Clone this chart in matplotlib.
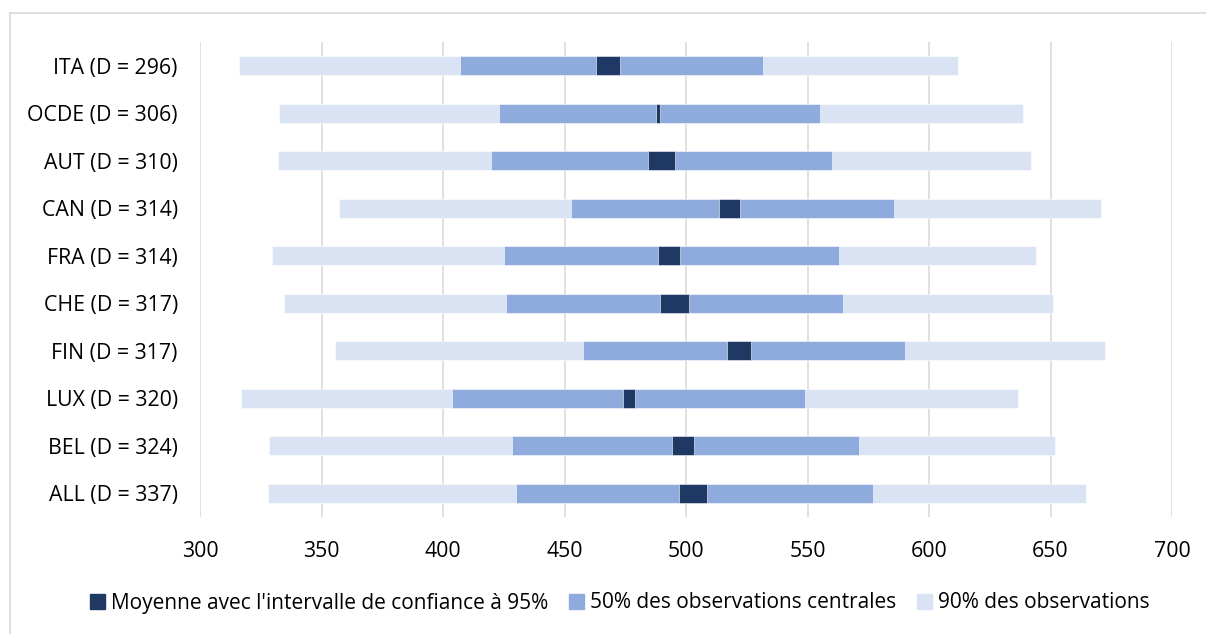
import numpy as np
import matplotlib.pyplot as plt
from matplotlib.patches import Patch
from matplotlib.lines import Line2D

plt.rcParams['font.family'] = ['Open Sans', 'DejaVu Sans']

# pays (de haut en bas)
labels = ['ITA (D = 296)', 'OCDE (D = 306)', 'AUT (D = 310)', 'CAN (D = 314)',
          'FRA (D = 314)', 'CHE (D = 317)', 'FIN (D = 317)', 'LUX (D = 320)',
          'BEL (D = 324)', 'ALL (D = 337)']

# percentiles et intervalle de confiance de la moyenne
p5 = [316.0, 332.6, 332.2, 357.2, 329.5, 334.7, 355.6, 316.7, 328.2, 328.0]
p25 = [406.9, 423.1, 419.9, 452.6, 425.0, 425.8, 457.5, 403.8, 428.3, 430.2]
ci_low = [463.1, 487.8, 484.2, 513.5, 488.4, 489.3, 517.0, 474.2, 494.2, 497.1]
ci_high = [472.7, 489.1, 495.3, 522.2, 497.4, 501.1, 526.8, 479.0, 503.1, 508.6]
p75 = [531.5, 555.3, 560.0, 585.8, 562.8, 564.8, 590.3, 548.8, 571.0, 577.1]
p95 = [612.0, 638.7, 641.8, 670.9, 643.9, 651.2, 672.5, 636.5, 651.8, 664.7]

c_dark = '#1F3864'
c_mid = '#8FAADC'
c_light = '#DAE3F3'
c_grid = '#D9D9D9'

p5, p25, ci_low, ci_high, p75, p95 = map(np.array, (p5, p25, ci_low, ci_high, p75, p95))
y = np.arange(len(labels))
h = 0.41
fs = 15.3

fig = plt.figure(figsize=(12.06, 6.34), dpi=100)
ax = fig.add_axes([200 / 1206, 1 - 517 / 634, 972 / 1206, 475 / 634])

ax.barh(y, p95 - p5, left=p5, height=h, color=c_light, edgecolor='white', linewidth=0.4, zorder=2)
ax.barh(y, p75 - p25, left=p25, height=h, color=c_mid, edgecolor='white', linewidth=0.4, zorder=3)
ax.barh(y, ci_high - ci_low, left=ci_low, height=h, color=c_dark, edgecolor='white', linewidth=0.4, zorder=4)

ax.set_xlim(300, 700)
ax.set_ylim(-0.5, len(labels) - 0.5)
ax.invert_yaxis()
ax.set_xticks(np.arange(300, 701, 50))
ax.set_yticks(y)
ax.set_yticklabels(labels)
ax.tick_params(axis='x', length=0, pad=17.5, labelsize=fs, colors='#000000')
ax.tick_params(axis='y', length=0, pad=16, labelsize=fs)
ax.grid(axis='x', color=c_grid, linewidth=1.1, zorder=0)
ax.set_axisbelow(True)
for s in ax.spines.values():
    s.set_visible(False)

handles = [Patch(color=c_dark), Patch(color=c_mid), Patch(color=c_light)]
leg_labels = ["Moyenne avec l'intervalle de confiance à 95%",
              '50% des observations centrales', '90% des observations']
fig.legend(handles, leg_labels, loc='center', bbox_to_anchor=(620 / 1206, 1 - 603 / 634),
           ncol=3, frameon=False, fontsize=15.0, handlelength=0.7, handleheight=0.7,
           handletextpad=0.3, columnspacing=1.0)

# cadre du graphique
fig.add_artist(Line2D([10 / 1206, 1.0], [1 - 13 / 634] * 2, color=c_grid, linewidth=1.2))
fig.add_artist(Line2D([10 / 1206] * 2, [0.0, 1 - 13 / 634], color=c_grid, linewidth=1.2))

fig.savefig('out.png', dpi=100)
